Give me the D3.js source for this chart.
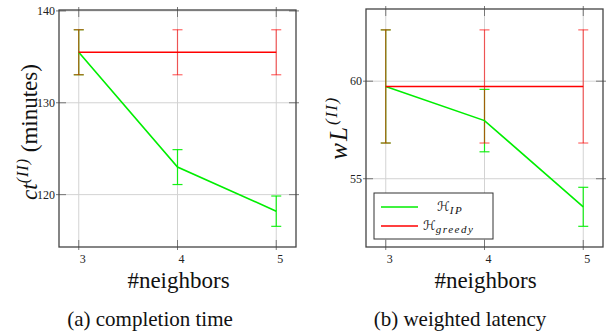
<!DOCTYPE html>
<html>
<head>
<meta charset="utf-8">
<script src="https://cdn.jsdelivr.net/npm/d3@7"></script>
<style>
  body { margin: 0; background: #fff; }
</style>
</head>
<body>
<svg id="chart" width="608" height="333"></svg>
<script>
// data
const neighbors = [3, 4, 5];

const ctGreedy = [135.5, 135.5, 135.5];
const ctGreedyErr = [2.45, 2.45, 2.45];
const ctIP = [135.5, 123.0, 118.2];
const ctIPErr = [2.45, 1.9, 1.65];

const wlGreedy = [59.73, 59.73, 59.73];
const wlGreedyErr = [2.9, 2.9, 2.9];
const wlIP = [59.73, 57.98, 53.56];
const wlIPErr = [2.9, 1.6, 1.0];

const ctTicks = [120, 130, 140];
const wlTicks = [55, 60];

const svg = d3.select("#chart");

function drawPanel(opt) {
  const x = d3.scaleLinear().domain([2.8, 5.2]).range([opt.left, opt.right]);
  const y = d3.scaleLinear().domain(opt.yDomain).range([opt.bottom, opt.top]);
  const g = svg.append("g");

  // grid
  g.selectAll(".gx").data(neighbors).enter().append("line")
    .attr("x1", d => x(d)).attr("x2", d => x(d))
    .attr("y1", opt.top).attr("y2", opt.bottom)
    .attr("stroke", "#d3d3d3").attr("stroke-width", 1);
  g.selectAll(".gy").data(opt.yTicks).enter().append("line")
    .attr("x1", opt.left).attr("x2", opt.right)
    .attr("y1", d => y(d)).attr("y2", d => y(d))
    .attr("stroke", "#d3d3d3").attr("stroke-width", 1);

  // tick marks (pgfplots style, on all sides)
  g.selectAll(".tyl").data(opt.yTicks).enter().append("line")
    .attr("x1", opt.left - 3).attr("x2", opt.left + 7)
    .attr("y1", d => y(d)).attr("y2", d => y(d))
    .attr("stroke", "#777").attr("stroke-width", 1);
  g.selectAll(".tyr").data(opt.yTicks).enter().append("line")
    .attr("x1", opt.right - 7).attr("x2", opt.right + 3)
    .attr("y1", d => y(d)).attr("y2", d => y(d))
    .attr("stroke", "#777").attr("stroke-width", 1);
  g.selectAll(".txb").data(neighbors).enter().append("line")
    .attr("x1", d => x(d)).attr("x2", d => x(d))
    .attr("y1", opt.bottom - 7).attr("y2", opt.bottom + 3)
    .attr("stroke", "#777").attr("stroke-width", 1);
  g.selectAll(".txt").data(neighbors).enter().append("line")
    .attr("x1", d => x(d)).attr("x2", d => x(d))
    .attr("y1", opt.top - 3).attr("y2", opt.top + 7)
    .attr("stroke", "#777").attr("stroke-width", 1);

  // tick labels
  g.selectAll(".lx").data(neighbors).enter().append("text")
    .attr("x", d => x(d) + 4).attr("y", opt.bottom + 16)
    .attr("text-anchor", "middle").attr("font-size", 12).attr("fill", "#222")
    .text(d => d);
  g.selectAll(".ly").data(opt.yTicks).enter().append("text")
    .attr("x", opt.left - 4).attr("y", d => y(d) + 4)
    .attr("text-anchor", "end").attr("font-size", 12).attr("fill", "#222")
    .text(d => d);

  // series: green first, red on top
  const line = d3.line().x((d, i) => x(neighbors[i])).y(d => y(d));
  const series = [
    { vals: opt.ip, err: opt.ipErr, color: "#00ee00", op: 0.9 },
    { vals: opt.greedy, err: opt.greedyErr, color: "#ff0000", op: 0.6 }
  ];
  series.forEach(s => {
    const eb = g.append("g").attr("stroke", s.color).attr("stroke-opacity", s.op).attr("stroke-width", 1.2);
    neighbors.forEach((n, i) => {
      const cx = x(n), y1 = y(s.vals[i] + s.err[i]), y2 = y(s.vals[i] - s.err[i]);
      eb.append("line").attr("x1", cx).attr("x2", cx).attr("y1", y1).attr("y2", y2);
      eb.append("line").attr("x1", cx - 5).attr("x2", cx + 5).attr("y1", y1).attr("y2", y1);
      eb.append("line").attr("x1", cx - 5).attr("x2", cx + 5).attr("y1", y2).attr("y2", y2);
    });
  });
  series.forEach(s => {
    g.append("path").datum(s.vals)
      .attr("d", line).attr("fill", "none")
      .attr("stroke", s.color).attr("stroke-width", 1.6);
  });

  // frame
  g.append("rect")
    .attr("x", opt.left).attr("y", opt.top)
    .attr("width", opt.right - opt.left).attr("height", opt.bottom - opt.top)
    .attr("fill", "none").attr("stroke", "#444").attr("stroke-width", 1.3);

  // x label and caption
  const cx = (opt.left + opt.right) / 2;
  g.append("text").attr("x", cx + 1).attr("y", 288)
    .attr("text-anchor", "middle").attr("font-size", 23).attr("fill", "#111")
    .text("#neighbors");
  g.append("text").attr("x", opt.captionX).attr("y", 326)
    .attr("text-anchor", "middle").attr("font-size", 21).attr("fill", "#111")
    .text(opt.caption);

  return { x, y, g };
}

const left = drawPanel({
  left: 59, right: 296, top: 10, bottom: 247,
  yDomain: [114.3, 140.1], yTicks: ctTicks,
  ip: ctIP, ipErr: ctIPErr, greedy: ctGreedy, greedyErr: ctGreedyErr,
  caption: "(a) completion time", captionX: 150
});

const right = drawPanel({
  left: 366, right: 603, top: 9, bottom: 247,
  yDomain: [51.5, 63.7], yTicks: wlTicks,
  ip: wlIP, ipErr: wlIPErr, greedy: wlGreedy, greedyErr: wlGreedyErr,
  caption: "(b) weighted latency", captionX: 460
});

// y labels
const yl1 = svg.append("text")
  .attr("transform", "translate(37,132) rotate(-90)")
  .attr("text-anchor", "middle").attr("font-size", 23).attr("fill", "#111");
yl1.append("tspan").attr("font-style", "italic").text("ct");
yl1.append("tspan").attr("font-size", 16).attr("font-style", "italic").attr("dy", -9)
  .attr("letter-spacing", 1).text("(II)");
yl1.append("tspan").attr("dy", 9).text(" (minutes)");

const yl2 = svg.append("text")
  .attr("transform", "translate(347,128) rotate(-90)")
  .attr("text-anchor", "middle").attr("font-size", 25).attr("fill", "#111");
yl2.append("tspan").attr("font-style", "italic").attr("letter-spacing", 2).text("wL");
yl2.append("tspan").attr("font-size", 17).attr("font-style", "italic").attr("dy", -10)
  .attr("letter-spacing", 1.5).text("(II)");

// serif everywhere
svg.selectAll("text").style("font-family", "Liberation Serif");

// legend
const lg = svg.append("g");
lg.append("rect").attr("x", 374).attr("y", 193).attr("width", 119).attr("height", 46)
  .attr("fill", "#fff").attr("stroke", "#333").attr("stroke-width", 1);
const legendItems = [
  { name: "IP", color: "#00ee00", y: 207 },
  { name: "greedy", color: "#ff0000", y: 226 }
];
legendItems.forEach(it => {
  lg.append("line").attr("x1", 381).attr("x2", 418).attr("y1", it.y).attr("y2", it.y)
    .attr("stroke", it.color).attr("stroke-width", 1.6);
  const t = lg.append("text").attr("x", it.name === "IP" ? 437 : 423).attr("y", it.y + 4)
    .attr("font-size", 13).attr("fill", "#111").style("font-family", "Liberation Serif");
  t.append("tspan").style("font-family", "DejaVu Sans").text("ℋ");
  t.append("tspan").attr("font-size", 11).attr("font-style", "italic").attr("dy", 3)
    .attr("letter-spacing", 1.5).text(it.name);
});
</script>
</body>
</html>
